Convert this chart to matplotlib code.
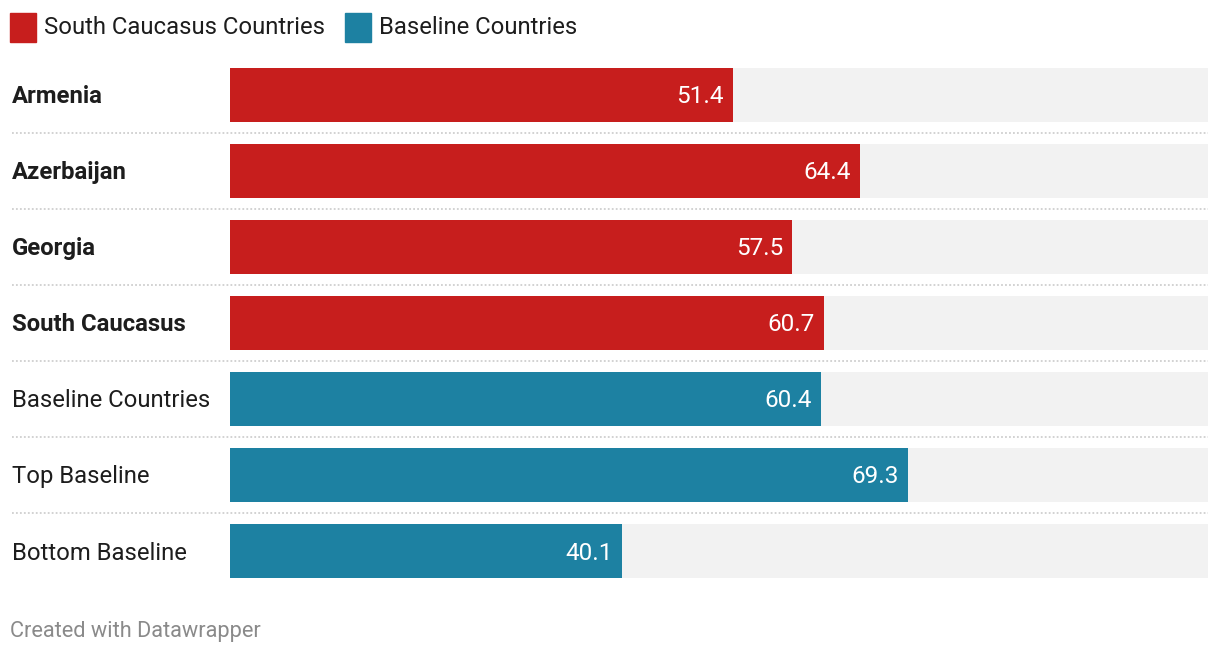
import matplotlib
matplotlib.use("Agg")
import matplotlib.pyplot as plt
from matplotlib.patches import Rectangle

plt.rcParams['font.family'] = ['Roboto', 'DejaVu Sans']

# data
categories = ["Armenia", "Azerbaijan", "Georgia", "South Caucasus",
              "Baseline Countries", "Top Baseline", "Bottom Baseline"]
values = [51.4, 64.4, 57.5, 60.7, 60.4, 69.3, 40.1]
groups = ["South Caucasus Countries"] * 4 + ["Baseline Countries"] * 3
bold_rows = [True, True, True, True, False, False, False]
legend_labels = ["South Caucasus Countries", "Baseline Countries"]
colors = {"South Caucasus Countries": "#c71e1d", "Baseline Countries": "#1d81a2"}
max_value = 100

W, H = 1220, 656
fig = plt.figure(figsize=(W / 100, H / 100), dpi=100)

# axes in pixel coordinates: bars from x=230 to 1208, rows 57..589
x0, x1 = 230, 1208
y_top, y_bot = 57, 589
ax = fig.add_axes([x0 / W, 1 - y_bot / H, (x1 - x0) / W, (y_bot - y_top) / H])
ax.set_xlim(0, max_value)
ax.set_ylim(len(categories) - 0.5, -0.5)
ax.axis("off")

ypos = range(len(categories))
bar_h = 54 / 76
ax.barh(ypos, [max_value] * len(categories), height=bar_h, color="#f2f2f2", zorder=1)
ax.barh(ypos, values, height=bar_h, color=[colors[g] for g in groups], zorder=2)

px = max_value / (x1 - x0)  # data units per pixel
dy = 2 / 76  # nudge text down a couple of pixels
for i, (cat, v, b) in enumerate(zip(categories, values, bold_rows)):
    ax.text(v - 9 * px, i + dy, f"{v:.1f}", color="white", fontsize=17.5,
            ha="right", va="center", zorder=3)
    ax.text((12 - x0) * px, i + dy, cat, color="#1d1d1d", fontsize=17.2,
            fontweight="bold" if b else "normal", ha="left", va="center")
    if i < len(categories) - 1:
        ax.plot([(12 - x0) * px, max_value], [i + 0.5, i + 0.5], color="#cfcfcf",
                lw=1.3, ls=(0, (1, 1.2)), clip_on=False, zorder=0)

# legend
lx = 10
for lab in legend_labels:
    fig.patches.append(Rectangle((lx / W, 1 - 42 / H), 26 / W, 29 / H,
                                 transform=fig.transFigure, color=colors[lab]))
    t = fig.text((lx + 34) / W, 1 - 27 / H, lab, fontsize=17.2, color="#1d1d1d",
                 ha="left", va="center")
    fig.canvas.draw()
    bb = t.get_window_extent()
    lx = bb.x1 + 20

fig.text(10 / W, 1 - 632 / H, "Created with Datawrapper", fontsize=15.7,
         color="#8a8a8a", ha="left", va="center")

fig.savefig("out.png", dpi=100)
